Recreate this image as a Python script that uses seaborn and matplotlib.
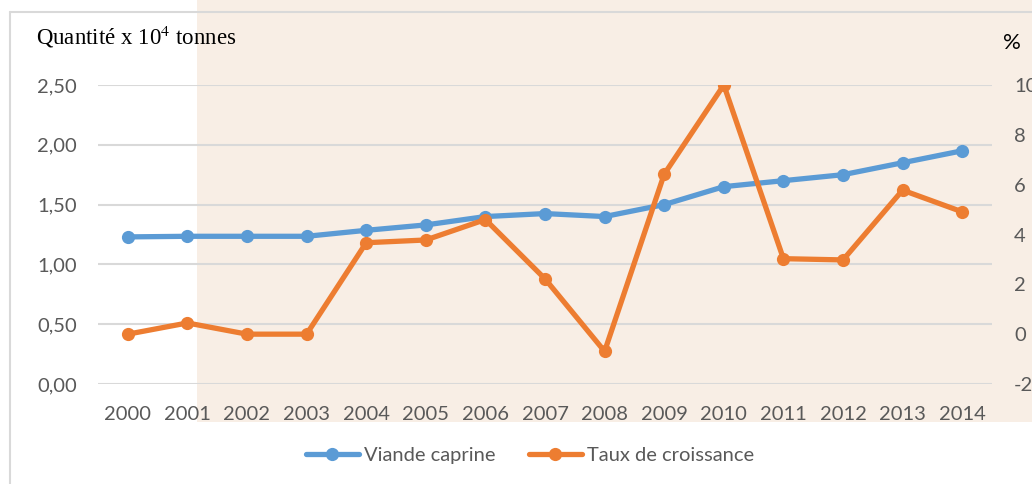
import numpy as np
import pandas as pd
import matplotlib
matplotlib.use("Agg")
import matplotlib.pyplot as plt
from matplotlib.patches import Rectangle
from matplotlib.lines import Line2D
from matplotlib.ticker import FuncFormatter
import seaborn as sns

# data
years = [2000, 2001, 2002, 2003, 2004, 2005, 2006, 2007, 2008, 2009, 2010, 2011, 2012, 2013, 2014]
viande = [1.23, 1.235, 1.235, 1.235, 1.285, 1.33, 1.40, 1.425, 1.40, 1.50, 1.65, 1.70, 1.75, 1.85, 1.95]
taux = [0.0, 0.45, 0.0, 0.0, 3.67, 3.78, 4.6, 2.22, -0.69, 6.42, 10.0, 3.03, 2.98, 5.78, 4.91]
left_ticks = [0, 0.5, 1.0, 1.5, 2.0, 2.5]
right_ticks = [-2, 0, 2, 4, 6, 8, 10]

df = pd.DataFrame({"annee": years, "Viande caprine": viande, "Taux de croissance": taux})

sns.set_style("white")
plt.rcParams["font.family"] = ["Lato", "DejaVu Sans"]
plt.rcParams["mathtext.fontset"] = "stix"
plt.rcParams["axes.unicode_minus"] = False

blue = "#5b9bd5"
orange = "#ed7d31"
grey_txt = "#595959"
grid_col = "#d9d9d9"
fs = 14.5

fig = plt.figure(figsize=(10.32, 4.84), dpi=100)
fig.patch.set_facecolor("white")

# beige block behind the chart
fig.patches.append(Rectangle((197 / 1032, 62 / 484), 1 - 197 / 1032, 1 - 62 / 484,
                             transform=fig.transFigure, facecolor="#f8eee5",
                             edgecolor="none", zorder=-5))
# border of the chart area
fig.lines.append(Line2D([10 / 1032, 10 / 1032], [0, 1 - 12 / 484], transform=fig.transFigure,
                        color=grid_col, lw=1.5, zorder=-4))
fig.lines.append(Line2D([10 / 1032, 1], [1 - 12 / 484, 1 - 12 / 484], transform=fig.transFigure,
                        color=grid_col, lw=1.5, zorder=-4))

ax = fig.add_axes([98 / 1032, 1 - 384 / 484, (992 - 98) / 1032, (384 - 85) / 484])
ax.set_facecolor("none")

sns.lineplot(data=df, x="annee", y="Viande caprine", ax=ax, color=blue, lw=3.8,
             marker="o", markersize=9.5, markeredgewidth=0, label="Viande caprine", legend=False)
ax.set_xlim(1999.5, 2014.5)
ax.set_ylim(0, 2.5)
ax.set_yticks(left_ticks)
ax.yaxis.set_major_formatter(FuncFormatter(lambda v, p: f"{v:.2f}".replace(".", ",")))
ax.set_xticks(years)
ax.set_xticklabels([str(y) for y in years])
ax.grid(axis="y", color=grid_col, lw=1.5)
ax.set_axisbelow(True)
ax.tick_params(axis="both", length=0, labelsize=fs, labelcolor=grey_txt)
ax.tick_params(axis="y", pad=15)
ax.tick_params(axis="x", pad=16)
ax.set_xlabel("")
ax.set_ylabel("")
sns.despine(ax=ax, left=True, bottom=True)

ax2 = ax.twinx()
ax2.set_facecolor("none")
sns.lineplot(data=df, x="annee", y="Taux de croissance", ax=ax2, color=orange, lw=3.8,
             marker="o", markersize=9.5, markeredgewidth=0, label="Taux de croissance", legend=False)
ax2.set_ylim(-2, 10)
ax2.set_yticks(right_ticks)
ax2.tick_params(axis="y", length=0, labelsize=fs, labelcolor=grey_txt, pad=16)
ax2.set_ylabel("")
for s in ax2.spines.values():
    s.set_visible(False)

fig.text(36 / 1032, 1 - 37 / 484, "Quantité x 10$^{4}$ tonnes", family="Liberation Serif",
         fontsize=16.5, color="black", va="center", ha="left")
fig.text(1003 / 1032, 1 - 43 / 484, "%", fontsize=16, color="black", va="center", ha="left")

h1, l1 = ax.get_legend_handles_labels()
h2, l2 = ax2.get_legend_handles_labels()
fig.legend(h1 + h2, l1 + l2, loc="center", bbox_to_anchor=(530 / 1032, 1 - 455 / 484),
           ncol=2, frameon=False, fontsize=fs, labelcolor=grey_txt, handlelength=2.6,
           handletextpad=0.25, columnspacing=1.7)

fig.savefig("out.png", dpi=100)
